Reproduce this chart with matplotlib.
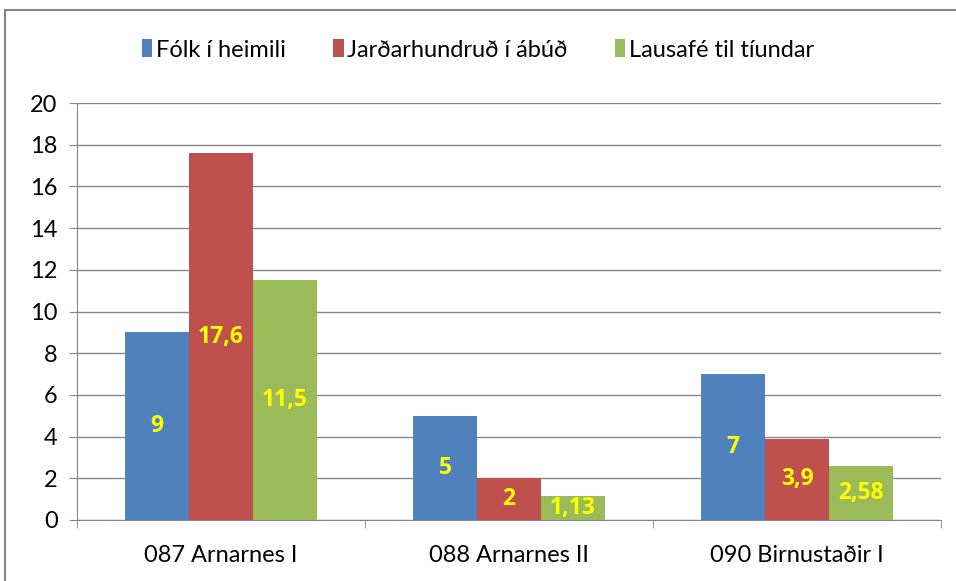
import numpy as np
import matplotlib.pyplot as plt
from matplotlib.patches import Rectangle

categories = ['087 Arnarnes I', '088 Arnarnes II', '090 Birnustaðir I']
series_names = ['Fólk í heimili', 'Jarðarhundruð í ábúð', 'Lausafé til tíundar']
folk = [9, 5, 7]
jardar = [17.6, 2, 3.9]
lausafe = [11.5, 1.13, 2.58]
value_labels = [['9', '5', '7'], ['17,6', '2', '3,9'], ['11,5', '1,13', '2,58']]

colors = ['#4F81BD', '#C0504D', '#9BBB59']
grid_color = '#868686'

plt.rcParams['font.family'] = ['Lato', 'DejaVu Sans']

fig = plt.figure(figsize=(9.56, 5.81), dpi=100)
ax = fig.add_axes([77 / 956, 1 - 520 / 581, 864 / 956, 417 / 581])

x = np.arange(len(categories))
width = 0.222
all_series = [folk, jardar, lausafe]
for i, vals in enumerate(all_series):
    pos = x + (i - 1) * width
    bars = ax.bar(pos, vals, width, color=colors[i], label=series_names[i], zorder=3)
    for b, lab in zip(bars, value_labels[i]):
        ax.text(b.get_x() + b.get_width() / 2, b.get_height() / 2, lab,
                ha='center', va='center', color='#FFFF00', fontsize=16.5,
                fontweight='bold', family=['Open Sans', 'DejaVu Sans'], zorder=4)

ax.set_xlim(-0.5, 2.5)
ax.set_ylim(0, 20)
ax.set_yticks(range(0, 21, 2))
ax.set_xticks(x)
ax.set_xticklabels(categories)
ax.set_xticks([-0.5, 0.5, 1.5, 2.5], minor=True)
ax.tick_params(axis='x', which='major', length=0, pad=18, labelsize=17)
ax.tick_params(axis='x', which='minor', length=6, color=grid_color, direction='out')
ax.tick_params(axis='y', length=6, color=grid_color, labelsize=17, pad=8)
ax.yaxis.grid(True, color=grid_color, linewidth=1, zorder=0)
ax.set_axisbelow(True)
for s in ['top', 'right']:
    ax.spines[s].set_visible(False)
for s in ['left', 'bottom']:
    ax.spines[s].set_color(grid_color)

fig.legend(loc='center', bbox_to_anchor=(0.5, 1 - 50 / 581), ncol=3, frameon=False,
           fontsize=17, handlelength=0.45, handleheight=0.8, handletextpad=0.15,
           columnspacing=2.0)

fig.patches.append(Rectangle((5 / 956, -0.05), 1.0, 1 - 10 / 581 + 0.05,
                             transform=fig.transFigure, fill=False,
                             edgecolor='#868686', linewidth=1.5))

fig.savefig('out.png', dpi=100)
